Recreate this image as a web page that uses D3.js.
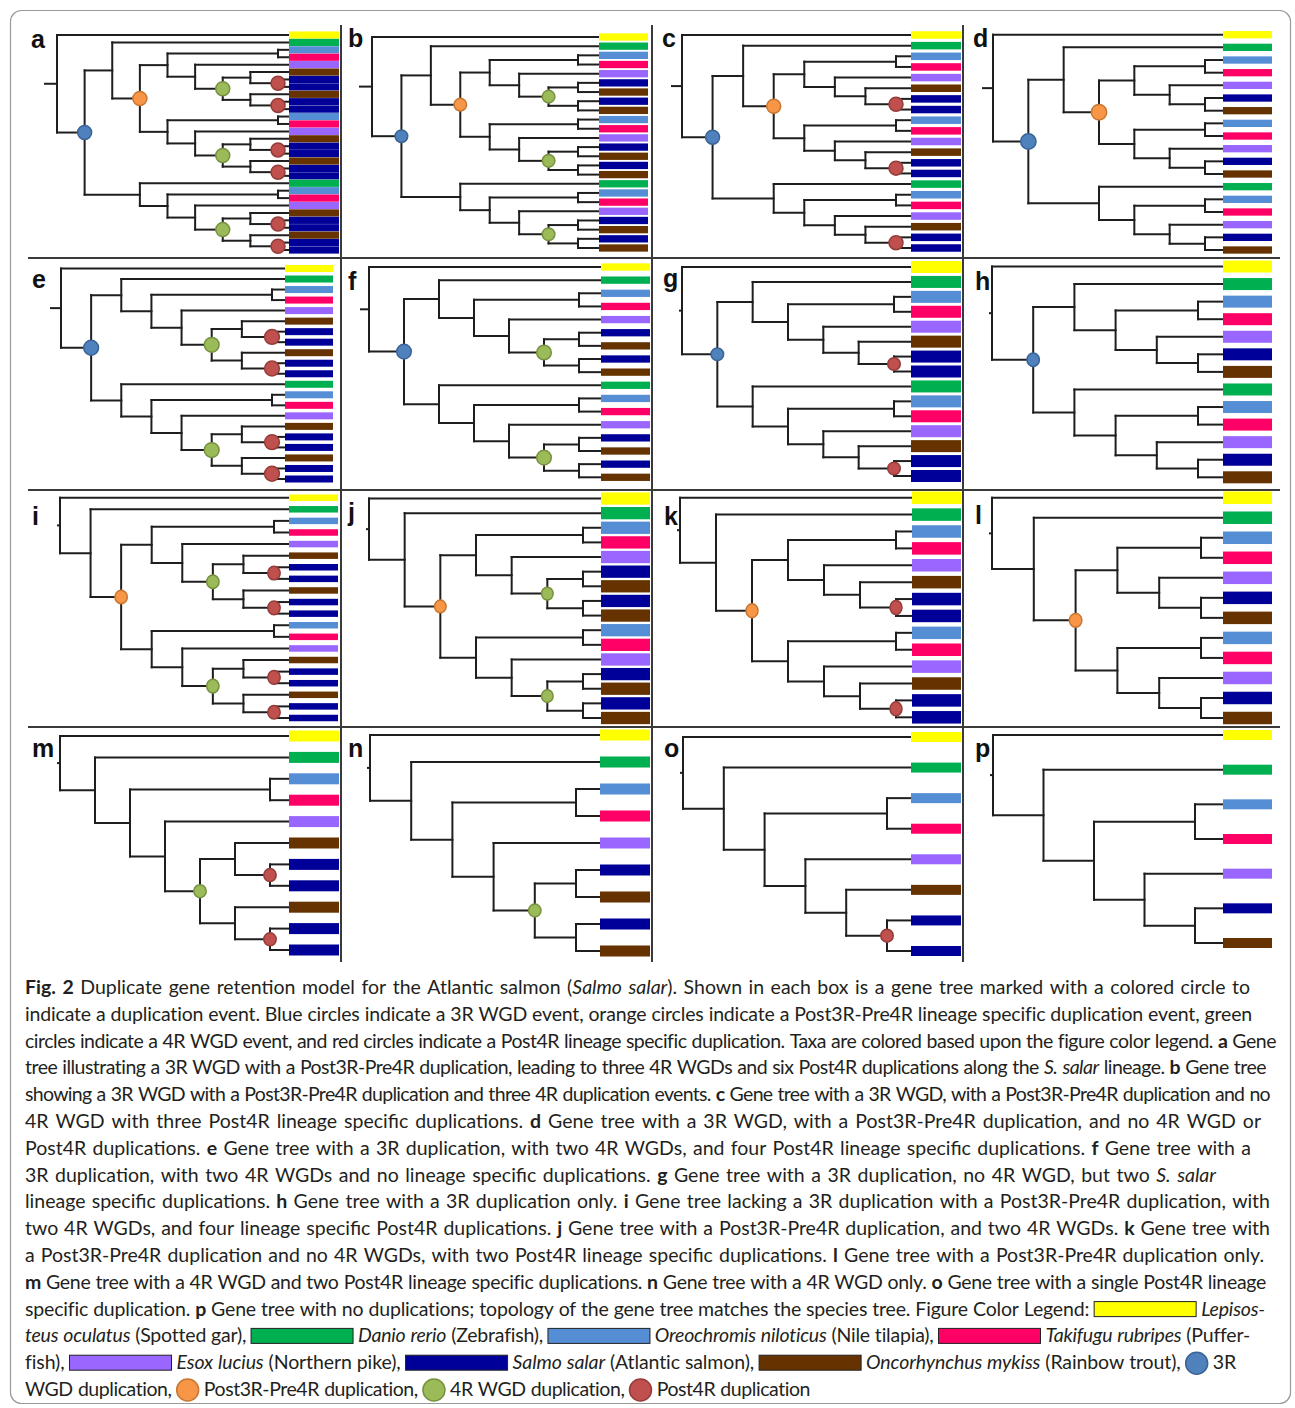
<!DOCTYPE html>
<html><head><meta charset="utf-8">
<script src="https://cdn.jsdelivr.net/npm/d3@7"></script>
<style>body{margin:0;background:#fff}svg{display:block}</style>
</head><body>
<svg id="fig" width="1295" height="1408"></svg>
<script>
// ---------------- DATA ----------------
const panelLetters = ["a","b","c","d","e","f","g","h","i","j","k","l","m","n","o","p"];
// Gene trees (Newick-like). Leaves: Y gar, G zebrafish, B tilapia, P fugu, U pike, S salmon, O trout.
// Node events after ")": b = 3R WGD, o = Post3R-Pre4R, g = 4R WGD, r = Post4R.
const panelTrees = [
  "(Y,((G,(((B,P),(U,((O,(S,S)r),(O,(S,S)r))g)),((B,P),(U,((O,(S,S)r),(O,(S,S)r))g)))o),(G,((B,P),(U,((O,(S,S)r),(O,(S,S)r))g))))b)",
  "(Y,((G,(((B,P),(U,((S,O),(S,O))g)),((B,P),(U,((S,O),(S,O))g)))o),(G,((B,P),(U,((S,O),(S,O))g))))b)",
  "(Y,((G,(((B,P),(U,(O,(S,S)r))),((B,P),(U,(O,(S,S)r))))o),(G,((B,P),(U,(O,(S,S)r)))))b)",
  "(Y,((G,(((B,P),(U,(S,O))),((B,P),(U,(S,O))))o),(G,((B,P),(U,(S,O)))))b)",
  "(Y,((G,((B,P),(U,((O,(S,S)r),(O,(S,S)r))g))),(G,((B,P),(U,((O,(S,S)r),(O,(S,S)r))g))))b)",
  "(Y,((G,((B,P),(U,((S,O),(S,O))g))),(G,((B,P),(U,((S,O),(S,O))g))))b)",
  "(Y,((G,((B,P),(U,(O,(S,S)r)))),(G,((B,P),(U,(O,(S,S)r)))))b)",
  "(Y,((G,((B,P),(U,(S,O)))),(G,((B,P),(U,(S,O)))))b)",
  "(Y,(G,(((B,P),(U,((O,(S,S)r),(O,(S,S)r))g)),((B,P),(U,((O,(S,S)r),(O,(S,S)r))g)))o))",
  "(Y,(G,(((B,P),(U,((S,O),(S,O))g)),((B,P),(U,((S,O),(S,O))g)))o))",
  "(Y,(G,(((B,P),(U,(O,(S,S)r))),((B,P),(U,(O,(S,S)r))))o))",
  "(Y,(G,(((B,P),(U,(S,O))),((B,P),(U,(S,O))))o))",
  "(Y,(G,((B,P),(U,((O,(S,S)r),(O,(S,S)r))g))))",
  "(Y,(G,((B,P),(U,((S,O),(S,O))g))))",
  "(Y,(G,((B,P),(U,(O,(S,S)r)))))",
  "(Y,(G,((B,P),(U,(S,O)))))"
];
const taxonCodes  = ["Y","G","B","P","U","S","O"];
const taxonColors = ["#FFFF00","#00B050","#558ED5","#FF0066","#9966FF","#000099","#663300"];
const eventCodes   = ["b","o","g","r"];
const eventFills   = ["#4F81BD","#F79646","#9BBB59","#C0504D"];
const eventStrokes = ["#3A6496","#C87732","#76913F","#943C3A"];
const captionLines = [
 "**Fig. 2** Duplicate gene retention model for the Atlantic salmon (_Salmo salar_). Shown in each box is a gene tree marked with a colored circle to",
 "indicate a duplication event. Blue circles indicate a 3R WGD event, orange circles indicate a Post3R-Pre4R lineage specific duplication event, green",
 "circles indicate a 4R WGD event, and red circles indicate a Post4R lineage specific duplication. Taxa are colored based upon the figure color legend. **a** Gene",
 "tree illustrating a 3R WGD with a Post3R-Pre4R duplication, leading to three 4R WGDs and six Post4R duplications along the _S. salar_ lineage. **b** Gene tree",
 "showing a 3R WGD with a Post3R-Pre4R duplication and three 4R duplication events. **c** Gene tree with a 3R WGD, with a Post3R-Pre4R duplication and no",
 "4R WGD with three Post4R lineage specific duplications. **d** Gene tree with a 3R WGD, with a Post3R-Pre4R duplication, and no 4R WGD or",
 "Post4R duplications. **e** Gene tree with a 3R duplication, with two 4R WGDs, and four Post4R lineage specific duplications. **f** Gene tree with a",
 "3R duplication, with two 4R WGDs and no lineage specific duplications. **g** Gene tree with a 3R duplication, no 4R WGD, but two _S. salar_",
 "lineage specific duplications. **h** Gene tree with a 3R duplication only. **i** Gene tree lacking a 3R duplication with a Post3R-Pre4R duplication, with",
 "two 4R WGDs, and four lineage specific Post4R duplications. **j** Gene tree with a Post3R-Pre4R duplication, and two 4R WGDs. **k** Gene tree with",
 "a Post3R-Pre4R duplication and no 4R WGDs, with two Post4R lineage specific duplications. **l** Gene tree with a Post3R-Pre4R duplication only.",
 "**m** Gene tree with a 4R WGD and two Post4R lineage specific duplications. **n** Gene tree with a 4R WGD only. **o** Gene tree with a single Post4R lineage",
 "specific duplication. **p** Gene tree with no duplications; topology of the gene tree matches the species tree. Figure Color Legend: [Y] _Lepisos-_",
 "_teus oculatus_ (Spotted gar), [G] _Danio rerio_ (Zebrafish), [B] _Oreochromis niloticus_ (Nile tilapia), [P] _Takifugu rubripes_ (Puffer-",
 "fish), [U] _Esox lucius_ (Northern pike), [S] _Salmo salar_ (Atlantic salmon), [O] _Oncorhynchus mykiss_ (Rainbow trout), [b] 3R",
 "WGD duplication, [o] Post3R-Pre4R duplication, [g] 4R WGD duplication, [r] Post4R duplication"
];

// ---------------- LAYOUT (positions / sizes) ----------------
// rootX, cherryX, barX, barW, firstLeafY, lastLeafY, barH, rx, ry, stub, labelX, labelY
const panelLayout = [
  [57, 278, 289, 50,  35.0, 250.0, 7.2, 7.0, 7.0, 12, 31, 48],
  [372,578, 599, 49,  37.0, 248.0, 7.3, 6.3, 6.3, 12, 348, 47],
  [682,896, 911, 50,  35.0, 248.0, 7.5, 7.0, 7.0, 10, 662, 47],
  [993,1205,1223,49,  34.7, 250.0, 7.3, 7.7, 7.7, 10, 973, 47],
  [61, 272, 285, 48,  268.5,479.0, 7.0, 7.4, 7.4, 10, 32, 288],
  [369,579, 601, 49,  267.0,477.3, 7.3, 7.3, 7.3, 8, 348, 290],
  [682,894, 911, 50,  267.0,476.0, 12.0,6.3, 6.3, 2, 663, 287],
  [992,1198,1223,49,  266.5,477.3, 12.0,6.2, 6.7, 2, 975, 290],
  [60, 274, 289, 49,  497.7,718.0, 6.5, 6.2, 6.8, 2, 32, 525],
  [369,583, 601, 49,  498.5,718.0, 12.3,5.8, 6.4, 2, 348, 521],
  [680,896, 912, 49,  497.7,717.3, 12.5,6.0, 7.0, 2, 664, 525],
  [992,1201,1223,49,  497.7,718.0, 12.5,6.3, 6.8, 2, 975, 524],
  [60, 270, 289, 50,  736.0,950.0, 11.0,6.2, 6.5, 2, 32, 757],
  [370,576, 600, 50,  735.0,951.0, 11.0,6.2, 6.5, 2, 348, 757],
  [683,887, 911, 50,  737.0,951.0, 10.0,6.2, 6.5, 2, 664, 757],
  [993,1195,1223,49,  735.0,943.0, 10.0,6.2, 6.5, 2, 975, 757]
];
const captionRight = [1250,1252,1276,1266,1270,1261,1251,1216,1270,1270,1264,1266,1265,1250,1236,810];

const svg = d3.select("#fig");
const taxonColor = d3.scaleOrdinal(taxonCodes, taxonColors);
const eventFill = d3.scaleOrdinal(eventCodes, eventFills);
const eventStroke = d3.scaleOrdinal(eventCodes, eventStrokes);

// outer border
svg.append("rect").attr("x",10.5).attr("y",10.5).attr("width",1280).attr("height",1393)
   .attr("rx",11).attr("fill","none").attr("stroke","#9a9a9a").attr("stroke-width",1.2);

// grid lines between panels
const grid = svg.append("g").attr("stroke","#3a3a3a").attr("stroke-width",2);
[258, 490, 727].forEach(y => grid.append("line").attr("x1",28).attr("x2",1280).attr("y1",y).attr("y2",y));
[341, 652, 963].forEach(x => grid.append("line").attr("x1",x).attr("x2",x).attr("y1",25).attr("y2",962));

function parseTree(s){
  let i = 0;
  function node(){
    let n;
    if (s[i] === "("){
      i++;
      const children = [node()];
      while (s[i] === ","){ i++; children.push(node()); }
      i++;
      n = {children};
    } else { n = {taxon: s[i]}; i++; }
    if (i < s.length && eventCodes.includes(s[i])){ n.event = s[i]; i++; }
    return n;
  }
  return node();
}

panelTrees.forEach((str, pi) => {
  const [rootX, cherryX, barX, barW, y0, y1, barH, rx, ry, stub, lx, ly] = panelLayout[pi];
  const root = d3.hierarchy(parseTree(str));
  const nLeaves = root.leaves().length;
  const H = root.height;
  d3.cluster().separation(() => 1).size([nLeaves, H])(root);
  const yScale = d3.scaleLinear().domain([0.5, nLeaves - 0.5]).range([y0, y1]);
  const xScale = d3.scaleLinear().domain([0, H - 1]).range([rootX, cherryX]);
  root.each(d => {
    d.py = yScale(d.x);
    d.px = d.children ? xScale(d.y) : barX;
  });
  const g = svg.append("g");
  const lines = g.append("g").attr("stroke","#1e1e1e").attr("stroke-width",2).attr("stroke-linecap","square").attr("fill","none");
  lines.append("line").attr("x1", root.px - stub).attr("x2", root.px).attr("y1", root.py).attr("y2", root.py);
  root.descendants().forEach(d => {
    if (d.parent){
      lines.append("line").attr("x1", d.parent.px).attr("x2", d.px).attr("y1", d.py).attr("y2", d.py);
    }
    if (d.children){
      const ys = d.children.map(c => c.py);
      lines.append("line").attr("x1", d.px).attr("x2", d.px).attr("y1", d3.min(ys)).attr("y2", d3.max(ys));
    }
  });
  g.selectAll("rect.bar").data(root.leaves()).join("rect").attr("class","bar")
    .attr("x", barX).attr("y", d => d.py - barH/2).attr("width", barW).attr("height", barH)
    .attr("fill", d => taxonColor(d.data.taxon));
  g.selectAll("ellipse.ev").data(root.descendants().filter(d => d.data.event)).join("ellipse").attr("class","ev")
    .attr("cx", d => d.px).attr("cy", d => d.py).attr("rx", rx).attr("ry", ry)
    .attr("fill", d => eventFill(d.data.event)).attr("stroke", d => eventStroke(d.data.event)).attr("stroke-width",1.5);
  svg.append("text").attr("x", lx).attr("y", ly).text(panelLetters[pi])
    .attr("font-family","'Liberation Sans', Arial, sans-serif").attr("font-weight","bold")
    .attr("font-size",25).attr("fill","#111");
});

// ---------------- CAPTION ----------------
const capX0 = 25, capY0 = 994, capDY = 26.8, minGap = 5;
const capFont = "Lato, 'Open Sans', sans-serif";
function tokenize(line){
  let bold = false, italic = false;
  return line.split(" ").map(w => {
    const m = w.match(/^\[(\w)\]$/);
    if (m) return {kind: taxonCodes.includes(m[1]) ? "rect" : "dot", code: m[1]};
    const runs = []; let cur = "";
    const push = () => { if (cur) runs.push({text: cur, bold, italic}); cur = ""; };
    for (let i = 0; i < w.length; i++){
      if (w[i] === "*" && w[i+1] === "*"){ push(); bold = !bold; i++; }
      else if (w[i] === "_"){ push(); italic = !italic; }
      else cur += w[i];
    }
    push();
    return {kind: "word", runs};
  });
}
const cap = svg.append("g").attr("font-family", capFont).attr("font-size", 19.5).attr("fill","#231f20");
captionLines.forEach((line, li) => {
  const base = capY0 + li * capDY;
  const toks = tokenize(line);
  const items = toks.map(t => {
    if (t.kind === "word"){
      const el = cap.append("text").attr("y", base);
      t.runs.forEach(r => el.append("tspan").text(r.text)
        .attr("font-weight", r.bold ? "bold" : null).attr("font-style", r.italic ? "italic" : null));
      return {t, el, w: el.node().getComputedTextLength(), chars: t.runs.reduce((a, r) => a + r.text.length, 0)};
    } else if (t.kind === "rect"){
      const el = cap.append("rect").attr("y", base - 14).attr("width", 102).attr("height", 15)
        .attr("fill", taxonColor(t.code)).attr("stroke","#222").attr("stroke-width",1);
      return {t, el, w: 102, chars: 0};
    } else {
      const el = cap.append("circle").attr("cy", base - 6).attr("r", 11)
        .attr("fill", eventFill(t.code)).attr("stroke", eventStroke(t.code)).attr("stroke-width",1.5);
      return {t, el, w: 22, chars: 0};
    }
  });
  const avail = captionRight[li] - capX0;
  let total = d3.sum(items, d => d.w);
  let gap = (avail - total) / (items.length - 1);
  if (gap < minGap){
    // compress letters slightly so that word gaps stay readable
    const chars = d3.sum(items, d => d.chars);
    const ls = (avail - total - (items.length - 1) * minGap) / chars;
    items.forEach(it => { if (it.t.kind === "word"){ it.el.attr("letter-spacing", ls); it.w = it.el.node().getComputedTextLength(); } });
    total = d3.sum(items, d => d.w);
    gap = (avail - total) / (items.length - 1);
  }
  let x = capX0;
  items.forEach(it => {
    if (it.t.kind === "dot") it.el.attr("cx", x + 11);
    else it.el.attr("x", x);
    x += it.w + gap;
  });
});
</script>
</body></html>
